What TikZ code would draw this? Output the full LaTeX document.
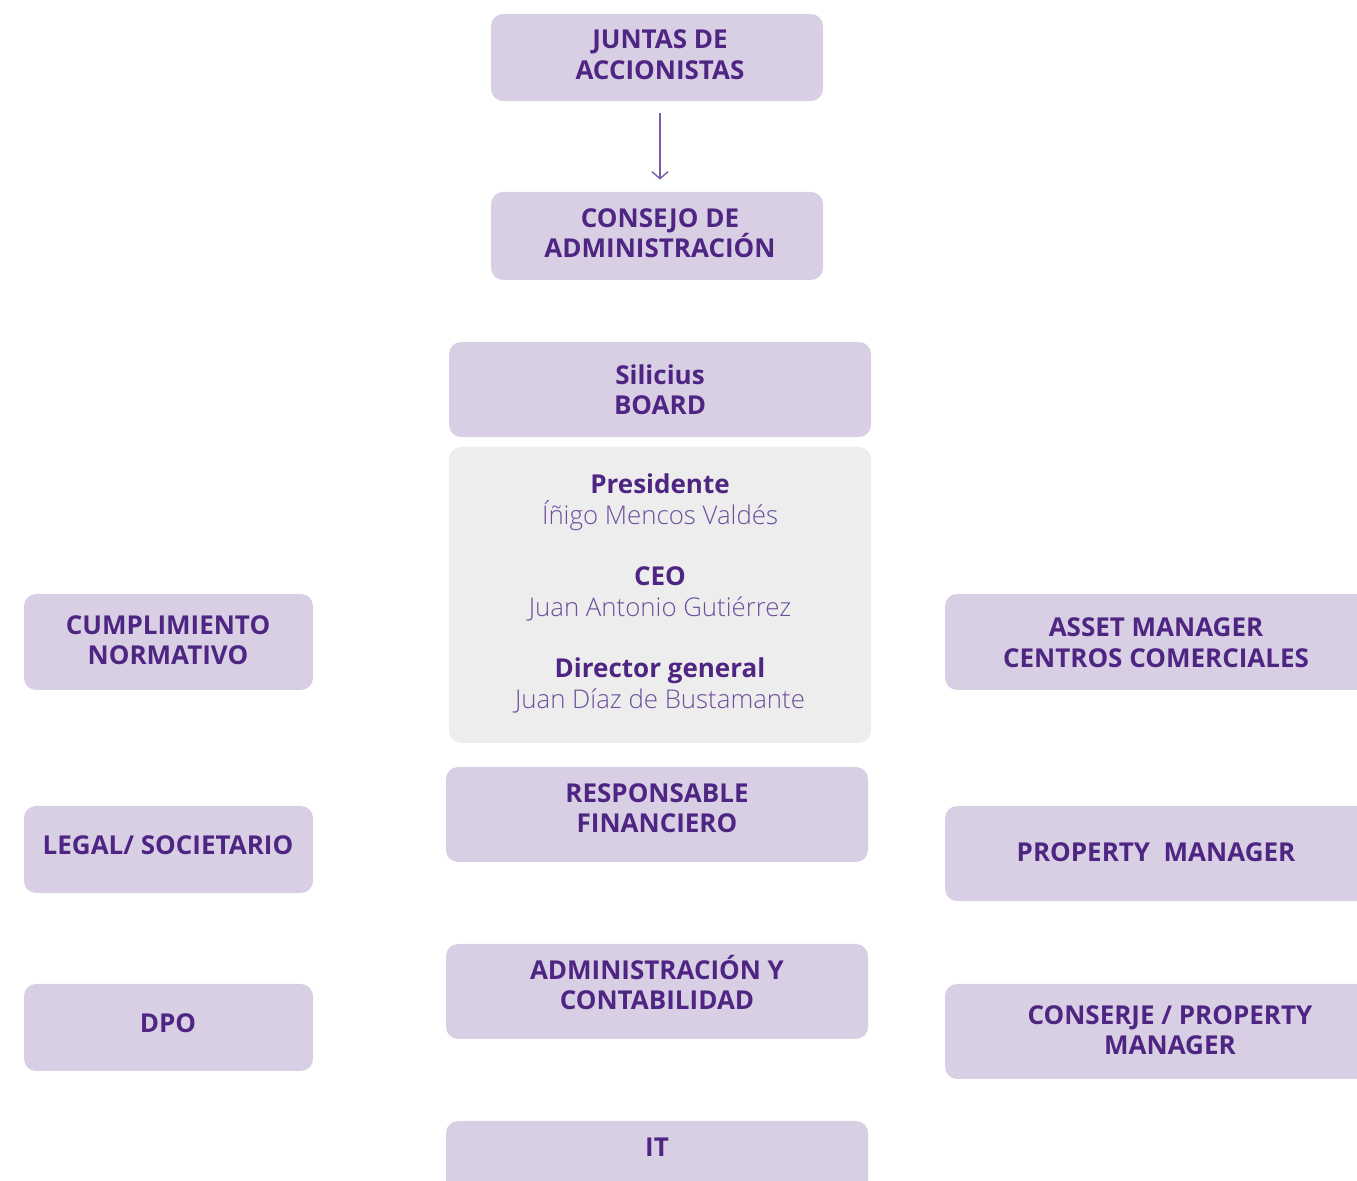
\documentclass[tikz,border=0pt]{standalone}
\usepackage{fontspec}
\setmainfont{Open Sans}
\newfontfamily\namefont{Open Sans Light}
\usetikzlibrary{arrows.meta}
\definecolor{boxfill}{HTML}{D9CFE4}
\definecolor{greyfill}{HTML}{EDEDED}
\definecolor{titlecol}{HTML}{4E2582}
\definecolor{namecol}{HTML}{6E4F9C}
\definecolor{arrowcol}{HTML}{7A5BA6}
\begin{document}
\begin{tikzpicture}[x=0.5pt,y=-0.5pt,
  box/.style={fill=boxfill,draw=none,rounded corners=6pt,inner sep=0pt},
  greybox/.style={fill=greyfill,draw=none,rounded corners=6pt,inner sep=0pt},
  ttl/.style={anchor=base,inner sep=0pt,text=titlecol,font=\fontsize{13}{15.5}\selectfont\bfseries},
  nm/.style={anchor=base,inner sep=0pt,text=namecol,font=\namefont\fontsize{12.9}{15.5}\selectfont},
  link/.style={draw=arrowcol,line width=0.7pt,-{Straight Barb[length=3.5pt,width=8pt]}}]
\useasboundingbox (0,0) rectangle (1357,1181);
\clip (0,0) rectangle (1357,1181);

% central column
\node[box,minimum width=166pt,minimum height=43.5pt] (juntas) at (657,57.5) {};
\node[box,minimum width=166pt,minimum height=44pt] (consejo) at (657,236) {};
\node[box,minimum width=211pt,minimum height=47.5pt] (board) at (660,389.5) {};
\node[greybox,minimum width=211pt,minimum height=148pt] (team) at (660,595) {};
\node[box,minimum width=211pt,minimum height=47.5pt] (fin) at (657,814.5) {};
\node[box,minimum width=211pt,minimum height=47.5pt] (admin) at (657,991.5) {};
\node[box,minimum width=211pt,minimum height=47.5pt] (it) at (657,1168.5) {};

% left column
\node[box,minimum width=144.5pt,minimum height=48pt] (cumpl) at (168.5,642) {};
\node[box,minimum width=144.5pt,minimum height=43.5pt] (legal) at (168.5,849.5) {};
\node[box,minimum width=144.5pt,minimum height=43.5pt] (dpo) at (168.5,1027.5) {};

% right column
\node[box,minimum width=217.5pt,minimum height=48pt] (asset) at (1162.5,642) {};
\node[box,minimum width=217.5pt,minimum height=47.5pt] (prop) at (1162.5,853.5) {};
\node[box,minimum width=217.5pt,minimum height=47.5pt] (conserje) at (1162.5,1031.5) {};

% labels
\node[ttl] (juntas1) at (660,49) {JUNTAS DE};
\node[ttl] (juntas2) at (660,80) {ACCIONISTAS};
\node[ttl] (consejo1) at (660,228) {CONSEJO DE};
\node[ttl] (consejo2) at (660,258) {ADMINISTRACIÓN};
\node[ttl] (board1) at (660,385) {Silicius};
\node[ttl] (board2) at (660,415) {BOARD};

\node[ttl] (pres) at (660,494) {Presidente};
\node[nm] (presn) at (660,525) {Íñigo Mencos Valdés};
\node[ttl] (ceo) at (660,586) {CEO};
\node[nm] (ceon) at (660,617) {Juan Antonio Gutiérrez};
\node[ttl] (dg) at (660,678) {Director general};
\node[nm] (dgn) at (660,709) {Juan Díaz de Bustamante};

\node[ttl] (fin1) at (657,803) {RESPONSABLE};
\node[ttl] (fin2) at (657,833) {FINANCIERO};
\node[ttl] (admin1) at (657,980) {ADMINISTRACIÓN Y};
\node[ttl] (admin2) at (657,1010) {CONTABILIDAD};
\node[ttl] (it1) at (657,1157) {IT};

\node[ttl] (cumpl1) at (168,635) {CUMPLIMIENTO};
\node[ttl] (cumpl2) at (168,665) {NORMATIVO};
\node[ttl] (legal1) at (168,855) {LEGAL/ SOCIETARIO};
\node[ttl] (dpo1) at (168,1033) {DPO};

\node[ttl] (asset1) at (1156,637) {ASSET MANAGER};
\node[ttl] (asset2) at (1156,668) {CENTROS COMERCIALES};
\node[ttl] (prop1) at (1156,862) {PROPERTY\ \ MANAGER};
\node[ttl] (conserje1) at (1170,1025) {CONSERJE / PROPERTY};
\node[ttl] (conserje2) at (1170,1055) {MANAGER};

% connector
\draw[link,shorten <=6pt,shorten >=6pt] ([xshift=1.5pt]juntas.south) -- ([xshift=1.5pt]consejo.north);
\end{tikzpicture}
\end{document}
